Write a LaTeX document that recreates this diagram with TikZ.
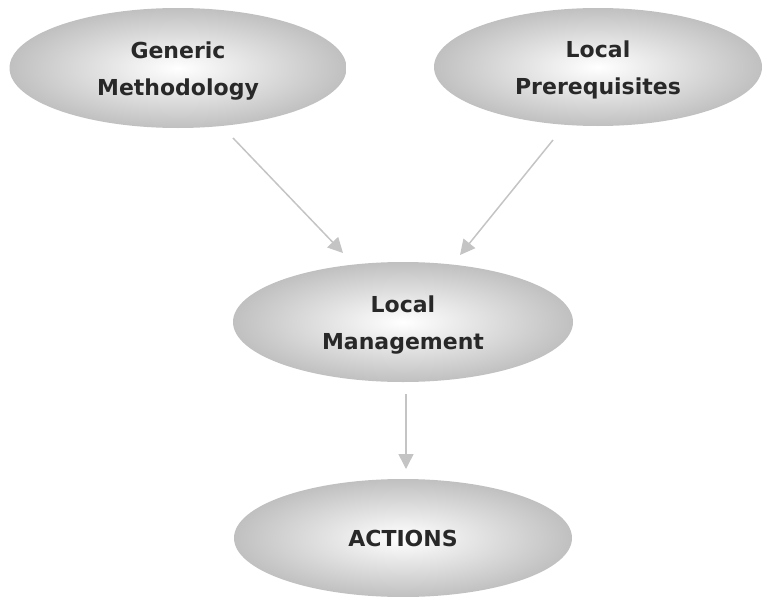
\documentclass[tikz,border=0pt]{standalone}
\usepackage{fontspec}
\setmainfont{DejaVu Sans}
\usetikzlibrary{shapes.geometric,arrows.meta}
\definecolor{ovalgray}{RGB}{192,192,192}
\definecolor{flowgray}{RGB}{196,196,196}
\definecolor{labelink}{RGB}{40,40,40}
% extra height on a first line, to lower two-line labels a little
\newcommand{\firstlinestrut}{\rule{0pt}{22.5pt}}
\tikzset{
  oval/.style={ellipse, inner sep=0pt, shade, inner color=white, outer color=ovalgray,
    text=labelink, font=\fontsize{22}{37}\selectfont\bfseries, align=center},
  flow/.style={draw=flowgray, line width=1.5pt, -{Triangle[length=15pt,width=15pt]}}
}
\begin{document}
\begin{tikzpicture}[x=1pt,y=-1pt]
  \useasboundingbox (0,0) rectangle (763,597);
  % the four stages
  \node[oval, minimum width=337pt, minimum height=120pt] (gen) at (178,68) {\firstlinestrut Generic\\Methodology};
  \node[oval, minimum width=328pt, minimum height=118pt] (pre) at (598,67) {\firstlinestrut Local\\Prerequisites};
  \node[oval, minimum width=340pt, minimum height=120pt] (man) at (403,322) {\firstlinestrut Local\\Management};
  \node[oval, minimum width=338pt, minimum height=118pt] (act) at (403,538) {ACTIONS};
  % arrow end points
  \coordinate (genout) at (233,138);
  \coordinate (manin1) at (343,253);
  \coordinate (preout) at (553,140);
  \coordinate (manin2) at (460,255);
  \coordinate (manout) at (406,394);
  \coordinate (actin) at (406,469);
  \draw[flow] (genout) -- (manin1);
  \draw[flow] (preout) -- (manin2);
  \draw[flow] (manout) -- (actin);
\end{tikzpicture}
\end{document}
